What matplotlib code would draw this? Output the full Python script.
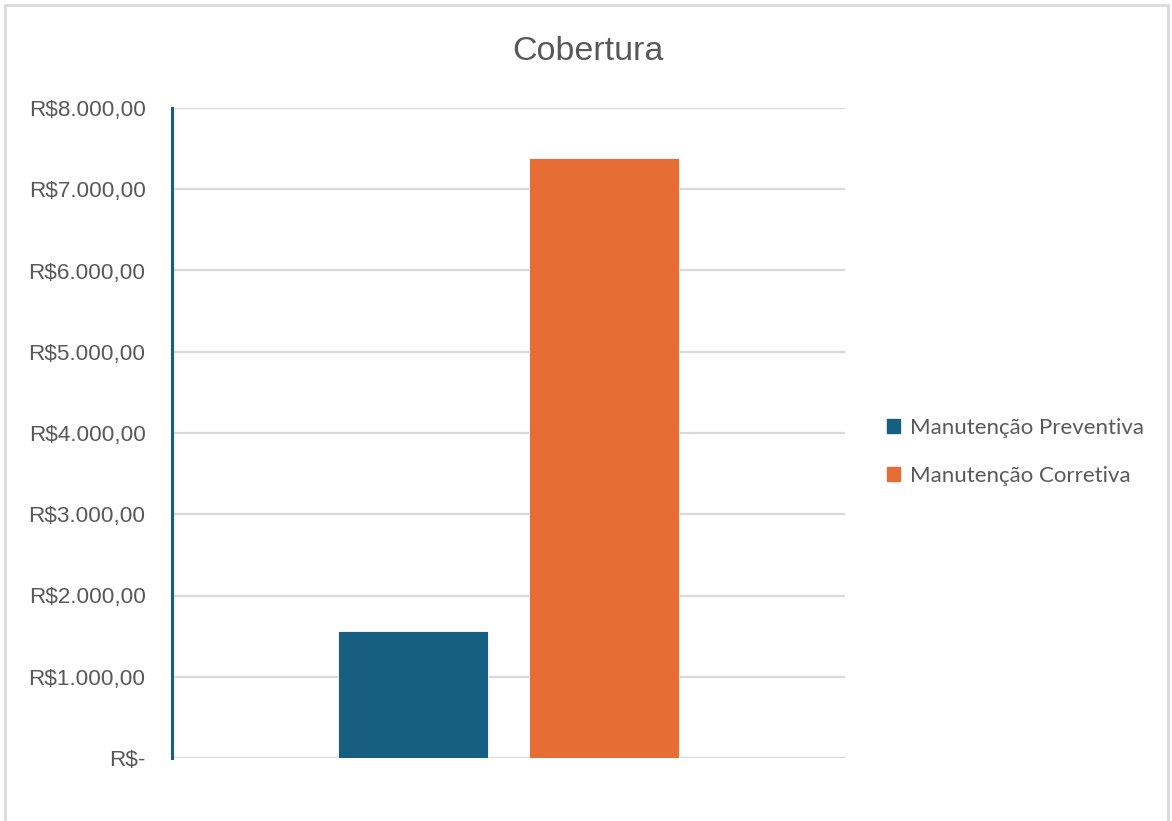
import matplotlib.pyplot as plt
from matplotlib.patches import Rectangle, Patch

series = ["Manutenção Preventiva", "Manutenção Corretiva"]
values = [1560, 7380]
colors = ["#165f80", "#e66e35"]
offsets = [-0.142, 0.142]
yticks = [0, 1000, 2000, 3000, 4000, 5000, 6000, 7000, 8000]


def brl(v):
    if v == 0:
        return "R$-"
    s = f"{v:,.2f}".replace(",", "X").replace(".", ",").replace("X", ".")
    return "R$" + s


fig = plt.figure(figsize=(11.72, 8.21), dpi=100)
# outer chart border
fig.patches.append(Rectangle((5 / 1172, -0.01), 1163 / 1172, 1 - 5 / 821 + 0.01,
                             transform=fig.transFigure, fill=False,
                             edgecolor="#d9d9d9", linewidth=2))

ax = fig.add_axes([172 / 1172, 1 - 758 / 821, 673 / 1172, 650 / 821])
for off, v, c, name in zip(offsets, values, colors, series):
    ax.bar(off, v, width=0.223, color=c, edgecolor="white", linewidth=0.6,
           label=name, zorder=3)

ax.set_xlim(-0.5, 0.5)
ax.set_ylim(0, 8000)
ax.set_yticks(yticks)
ax.set_yticklabels([brl(v) for v in yticks], fontsize=16.2, color="#595959",
                   family="Liberation Sans")
ax.set_xticks([])
ax.tick_params(axis="y", length=0, pad=19)
ax.grid(axis="y", color="#d9d9d9", linewidth=1.6, zorder=0)
for side in ["top", "right", "bottom"]:
    ax.spines[side].set_visible(False)
ax.spines["left"].set_color("#165f80")
ax.spines["left"].set_linewidth(2.2)
ax.spines["left"].set_zorder(4)

fig.text(588 / 1172, 1 - 51 / 821, "Cobertura", ha="center", va="center",
         fontsize=24.5, color="#595959", family="Liberation Sans")

handles = [Patch(color=c, label=n) for c, n in zip(colors, series)]
fig.legend(handles=handles, loc="center left",
           bbox_to_anchor=(867 / 1172, 1 - 452 / 821), frameon=False,
           prop={"family": "Lato", "size": 16}, labelcolor="#595959",
           handlelength=0.6, handleheight=0.6, handletextpad=0.45,
           labelspacing=1.25)

fig.savefig("out.png", dpi=100)
